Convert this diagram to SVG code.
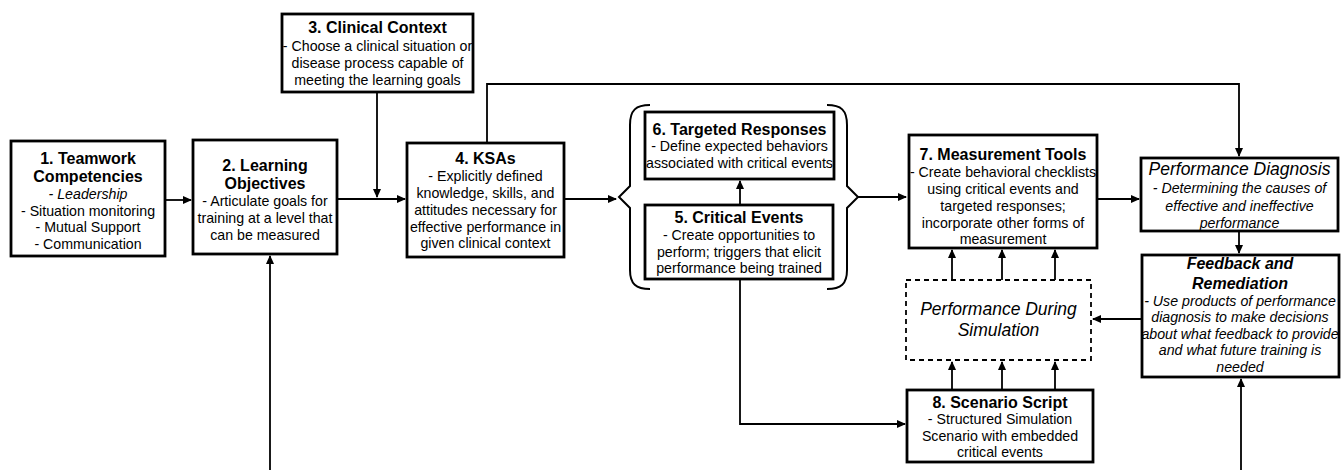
<svg xmlns="http://www.w3.org/2000/svg" width="1344" height="470" viewBox="0 0 1344 470">
<defs>
<marker id="ah" markerWidth="9" markerHeight="9" refX="8" refY="4.5" orient="auto" markerUnits="userSpaceOnUse">
<path d="M0,0.5 L9,4.5 L0,8.5 Z" fill="#000"/>
</marker>
</defs>
<style>
.box{fill:#fff;stroke:#000;stroke-width:2.8}
.dash{fill:#fff;stroke:#000;stroke-width:1.8;stroke-dasharray:5,4}
.c{fill:none;stroke:#000;stroke-width:1.8}
.br{fill:none;stroke:#000;stroke-width:2}
text{font-family:"Liberation Sans",Arial,sans-serif;fill:#000;text-anchor:middle}
.t{font-size:16px;font-weight:bold}
.b{font-size:14.2px}
.i{font-style:italic}
.ti{font-size:17.5px;font-style:italic}
</style>
<rect width="1344" height="470" fill="#fff"/>
<g id="connectors">
<path class="c" d="M165 200 H191" marker-end="url(#ah)"/>
<path class="c" d="M337 199 H405" marker-end="url(#ah)"/>
<path class="c" d="M377 92 V197" marker-end="url(#ah)"/>
<path class="c" d="M564 199 H616" marker-end="url(#ah)"/>
<path class="c" d="M858 197 H906" marker-end="url(#ah)"/>
<path class="c" d="M487 143 V84 H1239 V156" marker-end="url(#ah)"/>
<path class="c" d="M1097 199 H1139" marker-end="url(#ah)"/>
<path class="c" d="M1239 231 V253" marker-end="url(#ah)"/>
<path class="c" d="M1142 319 H1093" marker-end="url(#ah)"/>
<path class="c" d="M952 280 V250" marker-end="url(#ah)"/>
<path class="c" d="M1002 280 V250" marker-end="url(#ah)"/>
<path class="c" d="M1055 280 V250" marker-end="url(#ah)"/>
<path class="c" d="M952 390 V362" marker-end="url(#ah)"/>
<path class="c" d="M1002 390 V362" marker-end="url(#ah)"/>
<path class="c" d="M1055 390 V362" marker-end="url(#ah)"/>
<path class="c" d="M740 205 V181" marker-end="url(#ah)"/>
<path class="c" d="M740 279 V424 H905" marker-end="url(#ah)"/>
<path class="c" d="M270 470 V256" marker-end="url(#ah)"/>
<path class="c" d="M1241 470 V379" marker-end="url(#ah)"/>
</g>
<g id="braces">
<path class="br" d="M650 105 C636 105 630 110 630 125 V186 L619 197 L630 208 V270 C630 284 636 289 650 289"/>
<path class="br" d="M827 105 C841 105 847 110 847 125 V186 L858 197 L847 208 V270 C847 284 841 289 827 289"/>
</g>
<g id="n1">
<rect class="box" x="11" y="141" width="154" height="115"/>
<text class="t" x="88" y="164">1. Teamwork</text>
<text class="t" x="88" y="182">Competencies</text>
<text class="b i" x="88" y="199">- Leadership</text>
<text class="b" x="88" y="215.5">- Situation monitoring</text>
<text class="b" x="88" y="232">- Mutual Support</text>
<text class="b" x="88" y="248.5">- Communication</text>
</g>
<g id="n2">
<rect class="box" x="193" y="140" width="144" height="114"/>
<text class="t" x="265" y="171">2. Learning</text>
<text class="t" x="265" y="189">Objectives</text>
<text class="b" x="265" y="206">- Articulate goals for</text>
<text class="b" x="265" y="223">training at a level that</text>
<text class="b" x="265" y="240">can be measured</text>
</g>
<g id="n3">
<rect class="box" x="282" y="14" width="191" height="78"/>
<text class="t" x="377.5" y="33">3. Clinical Context</text>
<text class="b" x="377.5" y="51">- Choose a clinical situation or</text>
<text class="b" x="377.5" y="68">disease process capable of</text>
<text class="b" x="377.5" y="85">meeting the learning goals</text>
</g>
<g id="n4">
<rect class="box" x="407" y="143" width="157" height="114"/>
<text class="t" x="485.5" y="164">4. KSAs</text>
<text class="b" x="485.5" y="181">- Explicitly defined</text>
<text class="b" x="485.5" y="198">knowledge, skills, and</text>
<text class="b" x="485.5" y="215">attitudes necessary for</text>
<text class="b" x="485.5" y="232">effective performance in</text>
<text class="b" x="485.5" y="248">given clinical context</text>
</g>
<g id="n6">
<rect class="box" x="645" y="112" width="189" height="67"/>
<text class="t" x="739.5" y="135">6. Targeted Responses</text>
<text class="b" x="739.5" y="151">- Define expected behaviors</text>
<text class="b" x="739.5" y="168">associated with critical events</text>
</g>
<g id="n5">
<rect class="box" x="645" y="205" width="188" height="74"/>
<text class="t" x="739" y="223">5. Critical Events</text>
<text class="b" x="739" y="240">- Create opportunities to</text>
<text class="b" x="739" y="257">perform; triggers that elicit</text>
<text class="b" x="739" y="273">performance being trained</text>
</g>
<g id="n7">
<rect class="box" x="909" y="135" width="188" height="113"/>
<text class="t" x="1003" y="160">7. Measurement Tools</text>
<text class="b" x="1003" y="177">- Create behavioral checklists</text>
<text class="b" x="1003" y="194">using critical events and</text>
<text class="b" x="1003" y="211">targeted responses;</text>
<text class="b" x="1003" y="228">incorporate other forms of</text>
<text class="b" x="1003" y="244">measurement</text>
</g>
<g id="diag">
<rect class="box" x="1141" y="158" width="197" height="73"/>
<text class="ti" x="1239.5" y="175">Performance Diagnosis</text>
<text class="b i" x="1239.5" y="193">- Determining the causes of</text>
<text class="b i" x="1239.5" y="211">effective and ineffective</text>
<text class="b i" x="1239.5" y="228">performance</text>
</g>
<g id="feedback">
<rect class="box" x="1142" y="255" width="197" height="122"/>
<text class="t i" x="1240" y="269">Feedback and</text>
<text class="t i" x="1240" y="289">Remediation</text>
<text class="b i" x="1240" y="306">- Use products of performance</text>
<text class="b i" x="1240" y="322">diagnosis to make decisions</text>
<text class="b i" x="1240" y="339">about what feedback to provide</text>
<text class="b i" x="1240" y="355">and what future training is</text>
<text class="b i" x="1240" y="372">needed</text>
</g>
<g id="sim">
<rect class="dash" x="906" y="280" width="185" height="80"/>
<text class="ti" x="998.5" y="315">Performance During</text>
<text class="ti" x="998.5" y="336">Simulation</text>
</g>
<g id="n8">
<rect class="box" x="907" y="390" width="186" height="72"/>
<text class="t" x="1000" y="408">8. Scenario Script</text>
<text class="b" x="1000" y="424">- Structured Simulation</text>
<text class="b" x="1000" y="441">Scenario with embedded</text>
<text class="b" x="1000" y="457">critical events</text>
</g>
</svg>
